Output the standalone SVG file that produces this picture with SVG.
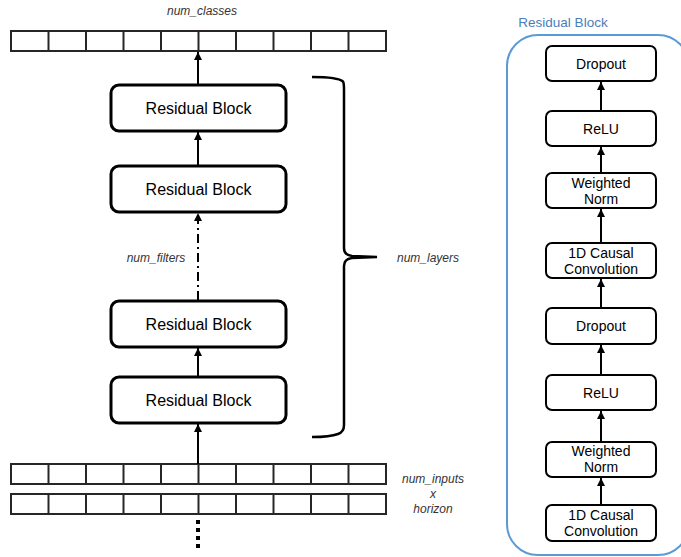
<svg xmlns="http://www.w3.org/2000/svg" width="681" height="557" viewBox="0 0 681 557">
<defs>
<style>
.arr{fill:#fff;stroke:#262626;stroke-width:2}
.cell{stroke:#262626;stroke-width:2}
.blk{fill:#fff;stroke:#000;stroke-width:3}
.ibox{fill:#fff;stroke:#000;stroke-width:2}
.conn{stroke:#000;stroke-width:2;fill:none}
.t{font-family:"Liberation Sans",Arial,sans-serif;fill:#000;text-anchor:middle}
.big{font-size:16px}
.sm{font-size:14px}
.lab{font-family:"Liberation Sans",Arial,sans-serif;font-size:12px;font-style:italic;fill:#333;text-anchor:middle}
</style>
<marker id="ah" viewBox="0 0 10 10" refX="10" refY="5" markerWidth="8" markerHeight="8" markerUnits="userSpaceOnUse" orient="auto">
<path d="M0,0 L10,5 L0,10 z" fill="#000"/>
</marker>
<g id="cells">
<line class="cell" x1="48.5" y1="0" x2="48.5" y2="20"/>
<line class="cell" x1="86" y1="0" x2="86" y2="20"/>
<line class="cell" x1="123.5" y1="0" x2="123.5" y2="20"/>
<line class="cell" x1="161" y1="0" x2="161" y2="20"/>
<line class="cell" x1="198.5" y1="0" x2="198.5" y2="20"/>
<line class="cell" x1="236" y1="0" x2="236" y2="20"/>
<line class="cell" x1="273.5" y1="0" x2="273.5" y2="20"/>
<line class="cell" x1="311" y1="0" x2="311" y2="20"/>
<line class="cell" x1="348.5" y1="0" x2="348.5" y2="20"/>
</g>
</defs>

<g id="output-array">
<rect class="arr" x="11" y="31" width="375" height="20"/>
<use href="#cells" x="0" y="31"/>
<text class="lab" x="202" y="15">num_classes</text>
</g>

<g id="input-array">
<rect class="arr" x="11" y="464" width="375" height="20"/>
<use href="#cells" x="0" y="464"/>
<rect class="arr" x="11" y="494" width="375" height="20"/>
<use href="#cells" x="0" y="494"/>
<line x1="198" y1="520" x2="198" y2="548" stroke="#000" stroke-width="4" stroke-dasharray="4 4"/>
<text class="lab" x="433" y="483">num_inputs</text>
<text class="lab" x="433" y="498">x</text>
<text class="lab" x="433" y="513">horizon</text>
</g>

<g id="block1">
<rect class="blk" x="111" y="85" width="175" height="46" rx="8"/>
<text class="t big" x="198.5" y="113.5">Residual Block</text>
</g>
<g id="block2">
<rect class="blk" x="111" y="166" width="175" height="46" rx="8"/>
<text class="t big" x="198.5" y="194.5">Residual Block</text>
</g>
<g id="block3">
<rect class="blk" x="111" y="301" width="175" height="46" rx="8"/>
<text class="t big" x="198.5" y="329.5">Residual Block</text>
</g>
<g id="block4">
<rect class="blk" x="111" y="377" width="175" height="46" rx="8"/>
<text class="t big" x="198.5" y="405.5">Residual Block</text>
</g>

<g id="num-filters">
<text class="lab" x="156" y="262">num_filters</text>
</g>

<g id="brace">
<path d="M312,77 Q338,77 343,81.5 Q344,83 344,90 L344,248 Q344,255 352,256 L377,257 L352,258 Q344,259 344,266 L344,425 Q344,432 338,434 Q330,437 312,437" fill="none" stroke="#000" stroke-width="2.5"/>
<text class="lab" x="428" y="262">num_layers</text>
</g>

<g id="residual-block-detail">
<rect x="507" y="35" width="182" height="520" rx="31" fill="none" stroke="#5B9BD5" stroke-width="2"/>
<text x="563" y="27" font-family="'Liberation Sans',Arial,sans-serif" font-size="13.5" fill="#4A7EBB" text-anchor="middle">Residual Block</text>
</g>
<g id="d-dropout2">
<rect class="ibox" x="546" y="46" width="110" height="35" rx="6"/>
<text class="t sm" x="601" y="68.5">Dropout</text>
</g>
<g id="d-relu2">
<rect class="ibox" x="546" y="111" width="110" height="35" rx="6"/>
<text class="t sm" x="601" y="133.5">ReLU</text>
</g>
<g id="d-norm2">
<rect class="ibox" x="546" y="173" width="110" height="35" rx="6"/>
<text class="t sm" x="601" y="187.5">Weighted</text>
<text class="t sm" x="601" y="203.5">Norm</text>
</g>
<g id="d-conv2">
<rect class="ibox" x="546" y="243" width="110" height="35" rx="6"/>
<text class="t sm" x="601" y="257.5">1D Causal</text>
<text class="t sm" x="601" y="273.5">Convolution</text>
</g>
<g id="d-dropout1">
<rect class="ibox" x="546" y="308" width="110" height="36" rx="6"/>
<text class="t sm" x="601" y="331">Dropout</text>
</g>
<g id="d-relu1">
<rect class="ibox" x="546" y="375" width="110" height="35" rx="6"/>
<text class="t sm" x="601" y="397.5">ReLU</text>
</g>
<g id="d-norm1">
<rect class="ibox" x="546" y="442" width="110" height="35" rx="6"/>
<text class="t sm" x="601" y="456">Weighted</text>
<text class="t sm" x="601" y="472">Norm</text>
</g>
<g id="d-conv1">
<rect class="ibox" x="546" y="505" width="110" height="36" rx="6"/>
<text class="t sm" x="601" y="519.5">1D Causal</text>
<text class="t sm" x="601" y="535.5">Convolution</text>
</g>

<g id="connectors">
<line class="conn" x1="198" y1="84" x2="198" y2="52" marker-end="url(#ah)"/>
<line class="conn" x1="198" y1="165" x2="198" y2="132" marker-end="url(#ah)"/>
<line class="conn" x1="198" y1="300" x2="198" y2="213" stroke-width="2.5" stroke-dasharray="9 4 2 4" marker-end="url(#ah)"/>
<line class="conn" x1="198" y1="376" x2="198" y2="348" marker-end="url(#ah)"/>
<line class="conn" x1="198" y1="464" x2="198" y2="424" marker-end="url(#ah)"/>
<line class="conn" x1="601" y1="111" x2="601" y2="82" marker-end="url(#ah)"/>
<line class="conn" x1="601" y1="173" x2="601" y2="147" marker-end="url(#ah)"/>
<line class="conn" x1="601" y1="243" x2="601" y2="209" marker-end="url(#ah)"/>
<line class="conn" x1="601" y1="308" x2="601" y2="279" marker-end="url(#ah)"/>
<line class="conn" x1="601" y1="375" x2="601" y2="345" marker-end="url(#ah)"/>
<line class="conn" x1="601" y1="442" x2="601" y2="411" marker-end="url(#ah)"/>
<line class="conn" x1="601" y1="505" x2="601" y2="478" marker-end="url(#ah)"/>
</g>
</svg>
